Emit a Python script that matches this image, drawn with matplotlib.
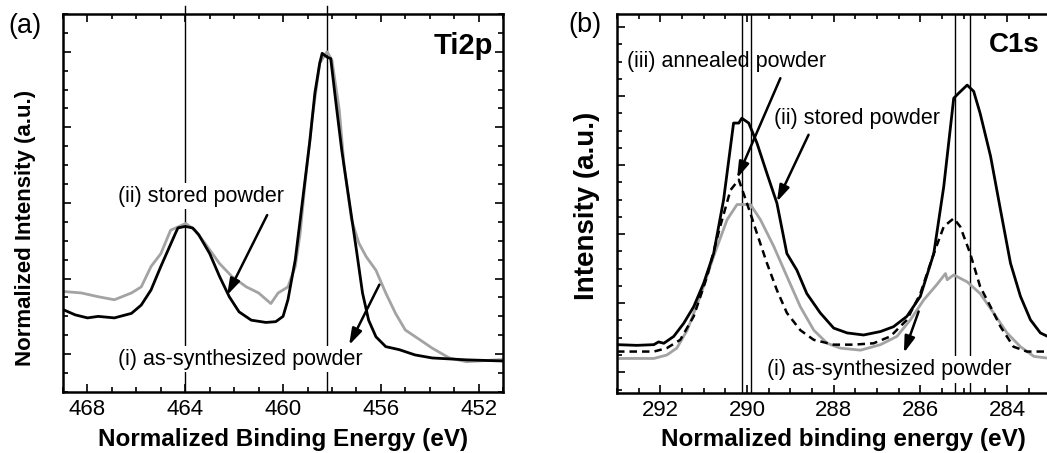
import numpy as np
import matplotlib.pyplot as plt
from matplotlib.ticker import MultipleLocator

plt.rcParams['font.family'] = ['Liberation Sans', 'DejaVu Sans']

# ------------------------------
# (a) Ti2p spectra
# ------------------------------
ti_ev_stored = [469.0, 468.5, 468.0, 467.56, 466.9, 466.2, 465.8, 465.4, 465.0, 464.7, 464.4,
                464.3, 464.0, 463.7, 463.45, 463.0, 462.6, 462.2, 461.8, 461.3, 460.7, 460.3,
                460.0, 459.8, 459.5, 459.2, 458.9, 458.7, 458.5, 458.4, 458.2, 458.05, 457.85,
                457.6, 457.3, 457.0, 456.75, 456.5, 456.2, 455.8, 455.25, 454.6, 453.9, 452.5, 451.0]
ti_int_stored = [0.59, 0.52, 0.48, 0.50, 0.48, 0.54, 0.65, 0.85, 1.16, 1.38, 1.60,
                 1.67, 1.69, 1.67, 1.58, 1.33, 1.03, 0.76, 0.56, 0.45, 0.42, 0.43,
                 0.50, 0.72, 1.25, 2.04, 2.83, 3.45, 3.85, 3.98, 3.93, 3.91, 3.36,
                 2.70, 2.04, 1.38, 0.81, 0.45, 0.23, 0.10, 0.06, -0.01, -0.05, -0.075, -0.09]

ti_ev_asyn = [469.0, 468.25, 467.56, 466.9, 466.2, 465.8, 465.4, 465.0, 464.6, 464.25, 463.98,
              463.6, 463.2, 462.6, 462.1, 461.5, 461.0, 460.5, 460.2, 459.8, 459.5, 459.3,
              459.1, 458.8, 458.5, 458.2, 458.0, 457.7, 457.5, 457.2, 456.9, 456.6, 456.2,
              455.8, 455.4, 455.0, 454.4, 453.9, 453.2, 452.5, 451.0]
ti_int_asyn = [0.83, 0.81, 0.76, 0.72, 0.81, 0.89, 1.16, 1.33, 1.64, 1.69, 1.73,
               1.64, 1.47, 1.20, 1.03, 0.89, 0.81, 0.67, 0.81, 0.89, 1.16, 1.60,
               2.26, 3.14, 3.85, 4.00, 3.89, 3.23, 2.48, 1.78, 1.47, 1.29, 1.11,
               0.81, 0.54, 0.32, 0.19, 0.08, -0.05, -0.10, -0.07]

ti_peaks = [464.0, 458.2]

# ------------------------------
# (b) C1s spectra
# ------------------------------
c_ev_stored = [293.0, 292.54, 292.15, 292.04, 291.92, 291.69, 291.46, 291.23, 291.0, 290.77,
               290.54, 290.31, 290.19, 290.12, 289.96, 289.77, 289.54, 289.31, 289.08, 288.85,
               288.62, 288.31, 288.0, 287.69, 287.31, 286.92, 286.62, 286.31, 286.0, 285.69,
               285.46, 285.23, 285.12, 284.92, 284.77, 284.62, 284.38, 284.15, 283.92, 283.69,
               283.46, 283.23, 283.0, 282.5]
c_int_stored = [0.40, 0.39, 0.40, 0.44, 0.42, 0.52, 0.71, 0.95, 1.29, 1.72,
                2.50, 3.61, 3.61, 3.68, 3.61, 3.32, 2.88, 2.45, 1.72, 1.48,
                1.14, 0.86, 0.64, 0.57, 0.54, 0.59, 0.66, 0.81, 1.10, 1.72,
                2.69, 3.97, 4.04, 4.16, 4.07, 3.75, 3.13, 2.35, 1.58, 1.10,
                0.76, 0.57, 0.50, 0.45]

c_ev_annealed = [293.0, 292.15, 291.85, 291.54, 291.23, 290.92, 290.62, 290.38, 290.19, 290.08,
                 289.92, 289.77, 289.54, 289.31, 289.08, 288.77, 288.46, 288.0, 287.54, 287.08,
                 286.69, 286.31, 286.0, 285.69, 285.46, 285.23, 285.08, 284.85, 284.62, 284.38,
                 284.15, 283.85, 283.54, 283.0, 282.5]
c_int_annealed = [0.30, 0.30, 0.35, 0.47, 0.81, 1.39, 2.11, 2.64, 2.79, 2.59,
                  2.30, 2.01, 1.58, 1.19, 0.86, 0.61, 0.47, 0.40, 0.40, 0.42,
                  0.52, 0.76, 1.14, 1.72, 2.11, 2.23, 2.11, 1.72, 1.24, 0.95,
                  0.66, 0.37, 0.30, 0.30, 0.30]

c_ev_asyn = [293.0, 292.15, 291.85, 291.62, 291.38, 291.08, 290.77, 290.46, 290.23, 289.92,
             289.69, 289.38, 289.08, 288.77, 288.46, 288.15, 287.85, 287.38, 286.92, 286.54,
             286.23, 285.92, 285.62, 285.42, 285.38, 285.23, 284.92, 284.62, 284.31, 284.0,
             283.69, 283.38, 283.0, 282.5]
c_int_asyn = [0.20, 0.20, 0.25, 0.35, 0.61, 1.10, 1.68, 2.21, 2.43, 2.43,
              2.21, 1.82, 1.39, 0.95, 0.61, 0.42, 0.35, 0.32, 0.40, 0.52,
              0.76, 1.05, 1.27, 1.43, 1.34, 1.41, 1.31, 1.14, 0.86, 0.57,
              0.37, 0.23, 0.20, 0.20]

c_peaks = [290.11, 289.91, 285.19, 284.86]

gray = '#a3a3a3'
arrow = dict(arrowstyle='-|>,head_length=0.7,head_width=0.22', color='black', lw=1.8,
             shrinkA=0, shrinkB=0, mutation_scale=14)
box = dict(facecolor='white', edgecolor='none', pad=2)


def style_axes(ax):
    for s in ax.spines.values():
        s.set_linewidth(1.8)
    ax.tick_params(which='both', direction='in', top=True, right=True, width=1.2,
                   labelsize=16, pad=5)
    ax.tick_params(which='major', length=6)
    ax.tick_params(which='minor', length=3.5)
    ax.tick_params(axis='y', labelleft=False)


fig = plt.figure(figsize=(10.47, 4.53), dpi=100)

# ------------------------------
# Panel (a)
# ------------------------------
ax1 = fig.add_axes([0.0602, 0.1347, 0.4203, 0.8344])
for x in ti_peaks:
    ax1.axvline(x, color='black', lw=1.0, ymax=1.02, clip_on=False, zorder=1)
ax1.plot(ti_ev_asyn, ti_int_asyn, color=gray, lw=2.0, zorder=2)
ax1.plot(ti_ev_stored, ti_int_stored, color='black', lw=2.0, zorder=3)
ax1.set_xlim(469, 451)
ax1.set_ylim(-0.5, 4.5)
ax1.set_xticks([468, 464, 460, 456, 452])
ax1.xaxis.set_minor_locator(MultipleLocator(1))
ax1.yaxis.set_major_locator(MultipleLocator(1))
ax1.yaxis.set_minor_locator(MultipleLocator(0.25))
style_axes(ax1)
ax1.text(466.77, 2.09, '(ii) stored powder', fontsize=15.5, va='center', bbox=box, zorder=4)
ax1.text(466.77, -0.066, '(i) as-synthesized powder', fontsize=15.5, va='center', bbox=box, zorder=4)
ax1.annotate('', xy=(462.29, 0.78), xytext=(460.65, 1.84), arrowprops=arrow, zorder=5)
ax1.annotate('', xy=(457.30, 0.12), xytext=(456.06, 0.92), arrowprops=arrow, zorder=5)
ax1.text(451.42, 3.97, 'Ti2p', fontsize=21, fontweight='bold', ha='right', va='baseline')
ax1.set_xlabel('Normalized Binding Energy (eV)', fontsize=17.5, fontweight='bold', labelpad=6)
ax1.set_ylabel('Normalized Intensity (a.u.)', fontsize=16, fontweight='bold')
ax1.yaxis.set_label_coords(-0.062, 0.434)

# ------------------------------
# Panel (b)
# ------------------------------
ax2 = fig.add_axes([0.5893, 0.1325, 0.4553, 0.8366])
for x in c_peaks:
    ax2.axvline(x, color='black', lw=1.0, zorder=1)
ax2.plot(c_ev_asyn, c_int_asyn, color=gray, lw=2.0, zorder=2)
ax2.plot(c_ev_annealed, c_int_annealed, color='black', lw=1.8, ls=(0, (3, 2)), zorder=3)
ax2.plot(c_ev_stored, c_int_stored, color='black', lw=2.0, zorder=3)
ax2.set_xlim(293, 282)
ax2.set_ylim(-0.3, 5.19)
ax2.set_xticks([292, 290, 288, 286, 284])
ax2.xaxis.set_minor_locator(MultipleLocator(0.5))
ax2.yaxis.set_major_locator(MultipleLocator(1))
ax2.yaxis.set_minor_locator(MultipleLocator(0.25))
style_axes(ax2)
ax2.text(292.78, 4.50, '(iii) annealed powder', fontsize=15.5, va='center', zorder=0)
ax2.text(289.37, 3.67, '(ii) stored powder', fontsize=15.5, va='center', zorder=4)
ax2.text(289.53, 0.04, '(i) as-synthesized powder', fontsize=15.5, va='center', bbox=box, zorder=4)
ax2.annotate('', xy=(290.23, 2.81), xytext=(289.23, 4.26), arrowprops=arrow, zorder=5)
ax2.annotate('', xy=(289.31, 2.47), xytext=(288.58, 3.44), arrowprops=arrow, zorder=5)
ax2.annotate('', xy=(286.38, 0.28), xytext=(286.04, 0.88), arrowprops=arrow, zorder=5)
ax2.text(283.25, 4.64, 'C1s', fontsize=20, fontweight='bold', ha='right', va='baseline')
ax2.set_xlabel('Normalized binding energy (eV)', fontsize=17.5, fontweight='bold')
ax2.xaxis.set_label_coords(0.476, -0.093)
ax2.set_ylabel('Intensity (a.u.)', fontsize=20, fontweight='bold')
ax2.yaxis.set_label_coords(-0.036, 0.493)

fig.text(0.008, 1 - 26 / 453, '(a)', fontsize=19.5, va='center')
fig.text(568 / 1047, 1 - 25 / 453, '(b)', fontsize=19.5, va='center')

fig.savefig('out.png', dpi=100)
